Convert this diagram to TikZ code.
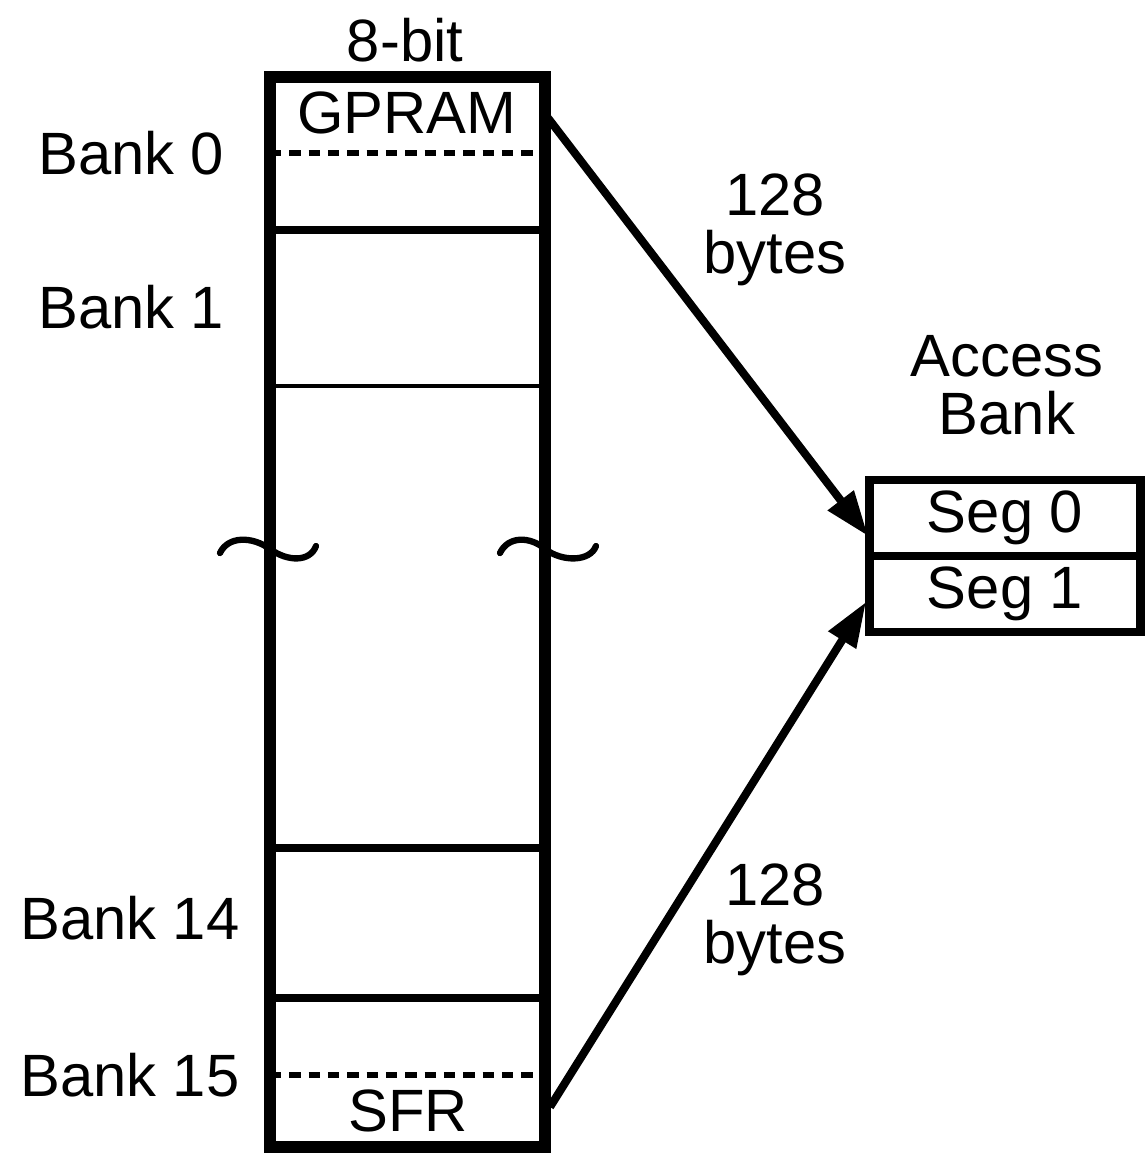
\documentclass[tikz,border=0pt]{standalone}
\usepackage{fontspec}
\setmainfont{Liberation Sans}
\usetikzlibrary{arrows.meta,positioning}

\begin{document}
\begin{tikzpicture}[
          x=0.02cm, y=-0.02cm,
          every node/.style={font=\fontsize{34}{33}\selectfont},
          outer/.style={draw, line width=7pt},
          divider/.style={line width=5pt},
          thindiv/.style={line width=2.4pt},
          banksep/.style={line width=3.4pt, dash pattern=on 6.5pt off 4.5pt},
          brk/.style={line width=3.6pt, line cap=round},
          seg/.style={draw, line width=4.6pt, inner sep=0pt, minimum width=5.42cm, minimum height=1.52cm},
          feed/.style={-{Triangle[length=0.9cm, width=0.62cm]}, line width=4.6pt}
      ]
        \useasboundingbox (0,0) rectangle (1145,1154);

        % memory column
        \draw[outer] (270,77) rectangle (545,1147);
        \coordinate (b0) at (270,153);
        \coordinate (b0r) at (545,153);
        \coordinate (b15) at (270,1075);
        \coordinate (b15r) at (545,1075);
        \draw[divider] (270,230) -- (545,230);
        \draw[thindiv] (270,386) -- (545,386);
        \draw[divider] (270,848) -- (545,848);
        \draw[divider] (270,998) -- (545,998);
        \draw[banksep] (b0) -- (b0r);
        \draw[banksep] (b15) -- (b15r);

        \node (width) at (405,40) {8-bit};
        \node (gpram) at (407,113) {GPRAM};
        \node (sfr) at (408,1111) {SFR};

        \node[anchor=west] (bank0) at (32,153) {Bank 0};
        \node[anchor=west] (bank1) at (32,307) {Bank 1};
        \node[anchor=west] (bank14) at (14,918) {Bank 14};
        \node[anchor=west] (bank15) at (14,1075) {Bank 15};

        % break marks
        \draw[brk] (220,553) .. controls (228,536) and (252,536) .. (270,549) .. controls (288,562) and (310,562) .. (316,546);
        \draw[brk] (500,553) .. controls (508,536) and (530,536) .. (545,549) .. controls (562,562) and (590,562) .. (596,546);

        % access bank
        \node[seg] (seg0) at (1005,518) {Seg 0};
        \node[seg, below=-4.6pt of seg0] (seg1) {Seg 1};
        \node[align=center] (acc) at (1007,385) {Access\\Bank};

        \coordinate (src0) at (548,118);
        \coordinate (src15) at (550,1107);
        \coordinate (dst0) at (868,536);
        \coordinate (dst1) at (866,602);
        \draw[feed] (src0) -- (dst0);
        \draw[feed] (src15) -- (dst1);

        \node[align=center] (upper) at (775,230) {128\\bytes};
        \node[align=center] (lower) at (775,920) {128\\bytes};
      \end{tikzpicture}
\end{document}
